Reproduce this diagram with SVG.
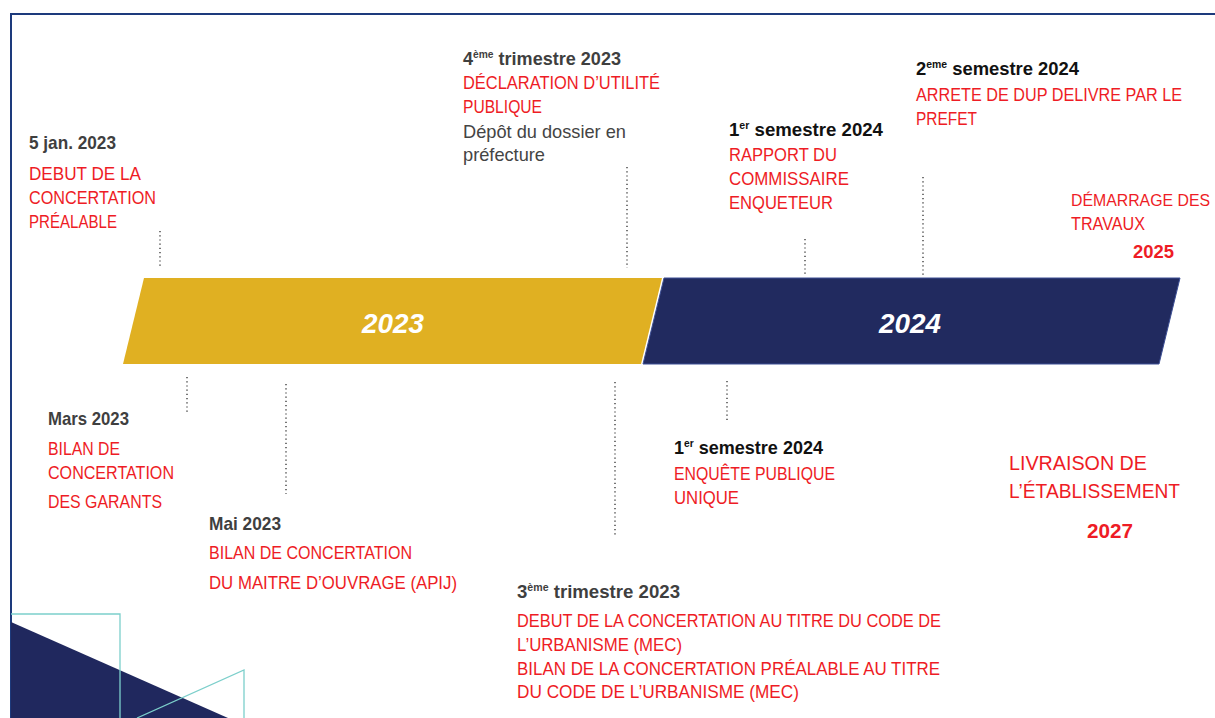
<svg xmlns="http://www.w3.org/2000/svg" width="1215" height="718" viewBox="0 0 1215 718">
  <style>
    .t { font-family: "Liberation Sans", Arial, sans-serif; font-size: 18.5px; }
    .red { fill: #ee1c25; }
    .head { fill: #3f3f3f; font-weight: bold; }
    .headk { fill: #111111; font-weight: bold; }
    .note { fill: #444444; }
    .big { font-size: 21px; }
    .yr { font-family: "Liberation Sans", Arial, sans-serif; font-size: 28px; font-weight: bold; font-style: italic; fill: #ffffff; text-anchor: middle; }
    .sup { font-size: 10.5px; }
    .tick { stroke: #555555; stroke-width: 1.6; stroke-dasharray: 1.2 3; fill: none; }
    .deco { stroke: #7ccfcb; stroke-width: 1.3; fill: none; }
  </style>

  <rect width="1215" height="718" fill="#ffffff"/>

  <!-- page frame -->
  <path d="M11 718 V14 H1215" fill="none" stroke="#1d3a7c" stroke-width="2"/>

  <!-- corner ornament -->
  <g id="corner">
    <polygon points="11,622 228,718 11,718" fill="#20285e"/>
    <polyline class="deco" points="11,614 120,614 120,718"/>
    <polyline class="deco" points="137,718 244,670 244,718"/>
  </g>

  <!-- year bands -->
  <g id="band-2023">
    <polygon points="144,278 662,278 641,364 123,364" fill="#e0b022"/>
    <text class="yr" x="393" y="333" textLength="62" lengthAdjust="spacingAndGlyphs">2023</text>
  </g>
  <g id="band-2024">
    <polygon points="664,278 1180,278 1159,364 643,364" fill="#212a5f" stroke="#3d4f95" stroke-width="1"/>
    <text class="yr" x="910" y="333" textLength="62" lengthAdjust="spacingAndGlyphs">2024</text>
  </g>

  <!-- dotted leaders from milestones to the bands -->
  <g id="connectors">
    <line class="tick" x1="160" y1="231" x2="160" y2="266"/>
    <line class="tick" x1="627" y1="167" x2="627" y2="268"/>
    <line class="tick" x1="805" y1="239" x2="805" y2="276"/>
    <line class="tick" x1="923" y1="177" x2="923" y2="277"/>
    <line class="tick" x1="187" y1="377" x2="187" y2="412"/>
    <line class="tick" x1="286" y1="384" x2="286" y2="494"/>
    <line class="tick" x1="615" y1="382" x2="615" y2="535"/>
    <line class="tick" x1="727" y1="381" x2="727" y2="420"/>
  </g>

  <!-- milestones above the bands -->
  <g id="m-jan-2023">
    <text class="t head" x="29" y="149" textLength="87" lengthAdjust="spacingAndGlyphs">5 jan. 2023</text>
    <text class="t red" x="29" y="180" textLength="112" lengthAdjust="spacingAndGlyphs">DEBUT DE LA</text>
    <text class="t red" x="29" y="204" textLength="127" lengthAdjust="spacingAndGlyphs">CONCERTATION</text>
    <text class="t red" x="29" y="228" textLength="88" lengthAdjust="spacingAndGlyphs">PRÉALABLE</text>
  </g>

  <g id="m-t4-2023">
    <text class="t head" x="463" y="65" textLength="158" lengthAdjust="spacingAndGlyphs">4<tspan class="sup" dy="-7.5">ème</tspan><tspan dy="7.5"> trimestre 2023</tspan></text>
    <text class="t red" x="463" y="89" textLength="197" lengthAdjust="spacingAndGlyphs">DÉCLARATION  D’UTILITÉ</text>
    <text class="t red" x="463" y="113" textLength="79" lengthAdjust="spacingAndGlyphs">PUBLIQUE</text>
    <text class="t note" x="463" y="138" textLength="163" lengthAdjust="spacingAndGlyphs">Dépôt du dossier  en</text>
    <text class="t note" x="463" y="161" textLength="82" lengthAdjust="spacingAndGlyphs">préfecture</text>
  </g>

  <g id="m-s1-2024-rapport">
    <text class="t headk" x="729" y="136" textLength="154" lengthAdjust="spacingAndGlyphs">1<tspan class="sup" dy="-7.5">er</tspan><tspan dy="7.5">  semestre 2024</tspan></text>
    <text class="t red" x="729" y="161" textLength="108" lengthAdjust="spacingAndGlyphs">RAPPORT DU</text>
    <text class="t red" x="729" y="185" textLength="120" lengthAdjust="spacingAndGlyphs">COMMISSAIRE</text>
    <text class="t red" x="729" y="209" textLength="104" lengthAdjust="spacingAndGlyphs">ENQUETEUR</text>
  </g>

  <g id="m-s2-2024">
    <text class="t headk" x="916" y="75" textLength="163" lengthAdjust="spacingAndGlyphs">2<tspan class="sup" dy="-7.5">eme</tspan><tspan dy="7.5"> semestre 2024</tspan></text>
    <text class="t red" x="916" y="101" style="font-size:17.5px" textLength="266" lengthAdjust="spacingAndGlyphs">ARRETE DE DUP DELIVRE PAR LE</text>
    <text class="t red" x="916" y="125" textLength="61" lengthAdjust="spacingAndGlyphs">PREFET</text>
  </g>

  <g id="m-2025">
    <text class="t red" x="1071" y="206" style="font-size:16.5px" textLength="139" lengthAdjust="spacingAndGlyphs">DÉMARRAGE  DES</text>
    <text class="t red" x="1071" y="230" textLength="74" lengthAdjust="spacingAndGlyphs">TRAVAUX</text>
    <text class="t red" x="1133" y="258" font-weight="bold" textLength="41" lengthAdjust="spacingAndGlyphs">2025</text>
  </g>

  <!-- milestones below the bands -->
  <g id="m-mars-2023">
    <text class="t head" x="48" y="425" textLength="81" lengthAdjust="spacingAndGlyphs">Mars 2023</text>
    <text class="t red" x="48" y="455" textLength="72" lengthAdjust="spacingAndGlyphs">BILAN DE</text>
    <text class="t red" x="48" y="479" textLength="126" lengthAdjust="spacingAndGlyphs">CONCERTATION</text>
    <text class="t red" x="48" y="508" textLength="114" lengthAdjust="spacingAndGlyphs">DES GARANTS</text>
  </g>

  <g id="m-mai-2023">
    <text class="t head" x="209" y="530" textLength="72" lengthAdjust="spacingAndGlyphs">Mai 2023</text>
    <text class="t red" x="209" y="559" textLength="203" lengthAdjust="spacingAndGlyphs">BILAN DE CONCERTATION</text>
    <text class="t red" x="209" y="589" textLength="248" lengthAdjust="spacingAndGlyphs">DU MAITRE D’OUVRAGE (APIJ)</text>
  </g>

  <g id="m-t3-2023">
    <text class="t head" x="517" y="598" textLength="163" lengthAdjust="spacingAndGlyphs">3<tspan class="sup" dy="-7.5">ème</tspan><tspan dy="7.5">  trimestre 2023</tspan></text>
    <text class="t red" x="517" y="627" textLength="424" lengthAdjust="spacingAndGlyphs">DEBUT DE LA CONCERTATION AU TITRE DU CODE DE</text>
    <text class="t red" x="517" y="651" textLength="165" lengthAdjust="spacingAndGlyphs">L’URBANISME (MEC)</text>
    <text class="t red" x="517" y="675" textLength="423" lengthAdjust="spacingAndGlyphs">BILAN DE LA CONCERTATION PRÉALABLE AU TITRE</text>
    <text class="t red" x="517" y="698" textLength="282" lengthAdjust="spacingAndGlyphs">DU CODE DE L’URBANISME (MEC)</text>
  </g>

  <g id="m-s1-2024-enquete">
    <text class="t headk" x="674" y="454" textLength="149" lengthAdjust="spacingAndGlyphs">1<tspan class="sup" dy="-7.5">er</tspan><tspan dy="7.5"> semestre 2024</tspan></text>
    <text class="t red" x="674" y="480" textLength="161" lengthAdjust="spacingAndGlyphs">ENQUÊTE PUBLIQUE</text>
    <text class="t red" x="674" y="504" textLength="65" lengthAdjust="spacingAndGlyphs">UNIQUE</text>
  </g>

  <g id="m-2027">
    <text class="t red big" x="1009" y="470" textLength="138" lengthAdjust="spacingAndGlyphs">LIVRAISON DE</text>
    <text class="t red big" x="1009" y="498" textLength="171" lengthAdjust="spacingAndGlyphs">L’ÉTABLISSEMENT</text>
    <text class="t red big" x="1087" y="538" font-weight="bold" textLength="46" lengthAdjust="spacingAndGlyphs">2027</text>
  </g>
</svg>
